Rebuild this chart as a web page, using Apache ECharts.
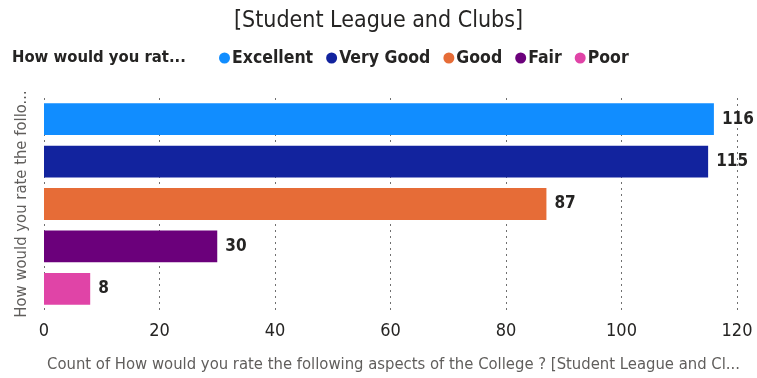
<!DOCTYPE html>
<html><head><meta charset="utf-8">
<script src="https://cdn.jsdelivr.net/npm/echarts@6/dist/echarts.min.js"></script>
<style>html,body{margin:0;padding:0;background:#fff}#c{width:757px;height:378px}</style>
</head><body><div id="c"></div>
<script>
const categories = ['Excellent', 'Very Good', 'Good', 'Fair', 'Poor'];
const values = [116, 115, 87, 30, 8];
const colors = ['#118DFF', '#12239E', '#E66C37', '#6B007B', '#E044A7'];
const xTicks = [0, 20, 40, 60, 80, 100, 120];

const FONT = "'Liberation Sans Narrow','DejaVu Sans Condensed','Roboto',sans-serif";
const chart = echarts.init(document.getElementById('c'));
const series = categories.map((c, i) => ({
  name: c,
  type: 'bar',
  stack: 'all',
  barWidth: '75%',
  itemStyle: { color: colors[i] },
  label: { show: true, position: 'right', distance: 8, color: '#252423', fontSize: 17, fontWeight: 'bold', fontFamily: FONT },
  data: categories.map((cc, j) => (j === i ? values[i] : null))
}));
chart.setOption({
  animation: false,
  title: { text: '[Student League and Clubs]', left: 'center', top: 5,
    textStyle: { fontSize: 23, fontWeight: 'normal', color: '#252423', fontFamily: FONT } },
  graphic: [{ type: 'text', left: 12, top: 49,
    style: { text: 'How would you rat...', fontSize: 16.5, fontWeight: 'bold', fill: '#252423', fontFamily: FONT } }],
  legend: { left: 214, top: 44, icon: 'circle', itemWidth: 11, itemHeight: 11, itemGap: 13,
    textStyle: { fontSize: 17.5, fontWeight: 'bold', color: '#252423', fontFamily: FONT, padding: [0, 0, 0, -3] },
    data: categories },
  grid: { left: 44, right: 20, top: 98, bottom: 68, containLabel: false },
  xAxis: { type: 'value', min: 0, max: 120, interval: 20,
    name: 'Count of How would you rate the following aspects of the College ? [Student League and Cl...',
    nameLocation: 'middle', nameGap: 46,
    nameTextStyle: { fontSize: 16.5, color: '#605E5C', fontFamily: FONT, padding: [0, 0, 0, 6] },
    axisLine: { show: false }, axisTick: { show: false },
    axisLabel: { fontSize: 18, color: '#252423', margin: 12, fontFamily: FONT,
      formatter: v => (xTicks.includes(v) ? String(v) : '') },
    splitLine: { show: true, lineStyle: { type: [2, 4], color: '#707070', width: 1 } } },
  yAxis: { type: 'category', data: categories, inverse: true,
    name: 'How would you rate the follo...', nameLocation: 'middle', nameGap: 14, nameRotate: 90,
    nameTextStyle: { fontSize: 16.5, color: '#605E5C', fontFamily: FONT },
    axisLine: { show: false }, axisTick: { show: false }, axisLabel: { show: false } },
  series: series
});
</script></body></html>
